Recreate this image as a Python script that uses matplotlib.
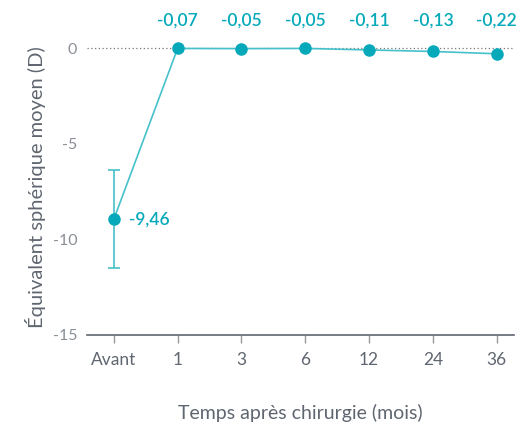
import matplotlib
matplotlib.use("Agg")
import matplotlib.pyplot as plt

plt.rcParams['font.family'] = ['Lato', 'DejaVu Sans']

categories = ["Avant", "1", "3", "6", "12", "24", "36"]
values = [-8.95, -0.02, -0.03, -0.02, -0.10, -0.18, -0.30]
err = [2.55, 0, 0, 0, 0, 0, 0]
labels = ["-9,46", "-0,07", "-0,05", "-0,05", "-0,11", "-0,13", "-0,22"]
yticks = [0, -5, -10, -15]

teal = "#06A9BA"
line_c = "#45C1CB"
gray = "#5F6670"

fig = plt.figure(figsize=(5.16, 4.29), dpi=100)
ax = fig.add_axes([87/516, (429-335)/429, (514-87)/516, (335-40)/429])

x = list(range(len(categories)))
ax.axhline(0, color="#777777", lw=0.9, ls=(0, (1, 2)), zorder=1)
ax.errorbar(x[:1], values[:1], yerr=err[:1], fmt="none", ecolor=line_c, elinewidth=1.2,
            capsize=4, capthick=1.2, zorder=2)
ax.plot(x, values, color=line_c, lw=1.2, zorder=3)
ax.plot(x, values, "o", color=teal, ms=8, zorder=4)

for i, (v, lab) in enumerate(zip(values, labels)):
    if i == 0:
        ax.annotate(lab, (i, v), xytext=(11, 0), textcoords="offset points",
                    ha="left", va="center", color=teal, fontsize=12.5, fontweight="semibold")
    else:
        ax.annotate(lab, (i, 0), xytext=(0, 20), textcoords="offset points",
                    ha="center", va="center", color=teal, fontsize=12.5, fontweight="semibold")

ax.set_xlim(-0.42, 6.27)
ax.set_ylim(-15, 0.42)
ax.set_xticks(x)
ax.set_xticklabels(categories)
ax.set_yticks(yticks)
ax.set_yticklabels([str(t) for t in yticks])

for s in ["top", "right", "left"]:
    ax.spines[s].set_visible(False)
ax.spines["bottom"].set_color(gray)
ax.spines["bottom"].set_linewidth(1.2)
ax.tick_params(axis="x", length=6, width=1, color="#999999", labelcolor=gray, labelsize=12.5, pad=6)
ax.tick_params(axis="y", length=0, labelcolor="#8A8F96", labelsize=11.5, pad=7)

ax.set_xlabel("Temps après chirurgie (mois)", fontsize=14, color=gray, labelpad=26)
ax.set_ylabel("Équivalent sphérique moyen (D)", fontsize=14.5, color=gray, labelpad=5)

fig.savefig("out.png", dpi=100)
